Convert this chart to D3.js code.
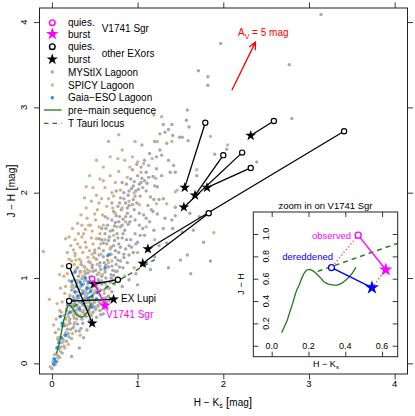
<!DOCTYPE html>
<html>
<head>
<meta charset="utf-8">
<script src="https://cdn.jsdelivr.net/npm/d3@7"></script>
<style>
body { margin: 0; background: #fff; }
svg { display: block; font-family: "Liberation Sans", Arial, Helvetica, sans-serif; }
</style>
</head>
<body>
<div id="chart"></div>
<script>
// ---- data ----
const mystixPts = [
  [0.00,-0.06],[0.03,-0.02],[0.06,0.02],[0.02,0.05],[0.09,0.07],[0.05,0.11],[0.12,0.12],[0.08,0.17],[0.14,0.2],[0.11,0.24],
  [0.17,0.26],[0.07,0.28],[0.2,0.31],[0.15,0.33],[0.23,0.29],[0.32,0.18],[0.23,0.08],[0.18,0.4],[0.12,0.44],[0.25,0.42],
  [0.21,0.47],[0.28,0.38],[0.3,0.46],[0.16,0.52],[0.26,0.53],[0.34,0.41],[0.37,0.3],[0.41,0.39],[0.04,0.36],[0.09,0.55],
  [0.19,0.58],[0.24,0.61],[0.3,0.57],[0.35,0.52],[0.4,0.55],[0.44,0.5],[0.48,0.6],[0.52,0.54],[0.56,0.62],[0.6,0.58],
  [0.22,0.66],[0.27,0.7],[0.31,0.64],[0.36,0.68],[0.41,0.63],[0.45,0.7],[0.5,0.66],[0.55,0.72],[0.59,0.68],[0.64,0.71],
  [0.2,0.74],[0.25,0.78],[0.29,0.75],[0.33,0.8],[0.38,0.76],[0.42,0.82],[0.47,0.77],[0.51,0.84],[0.56,0.8],[0.61,0.86],
  [0.66,0.79],[0.7,0.84],[0.23,0.86],[0.28,0.9],[0.32,0.87],[0.37,0.93],[0.41,0.89],[0.46,0.95],[0.5,0.91],[0.54,0.98],
  [0.58,0.93],[0.63,1.0],[0.68,0.95],[0.72,1.03],[0.26,0.98],[0.31,1.02],[0.35,0.99],[0.39,1.05],[0.44,1.01],[0.48,1.08],
  [0.53,1.04],[0.57,1.1],[0.62,1.07],[0.66,1.13],[0.71,1.09],[0.75,1.16],[0.3,1.12],[0.34,1.16],[0.38,1.13],[0.43,1.19],
  [0.47,1.15],[0.52,1.22],[0.56,1.18],[0.6,1.25],[0.65,1.21],[0.69,1.28],[0.74,1.24],[0.78,1.3],[0.36,0.6],[0.43,0.72],
  [0.53,0.88],[0.6,0.76],[0.34,0.92],[0.49,1.0],[0.27,0.83],[0.18,0.68],[0.4,0.97],[0.55,1.06],[0.45,0.85],[0.64,0.9],
  [0.32,0.72],[0.58,1.02],[0.69,1.04],[0.39,0.84],[0.47,0.69],[0.28,0.62],[0.52,0.76],[0.62,0.64],[0.67,0.74],[0.73,0.93],
  [0.5,1.3],[0.55,1.35],[0.6,1.32],[0.64,1.4],[0.69,1.36],[0.73,1.44],[0.78,1.4],[0.82,1.47],[0.58,1.45],[0.62,1.52],
  [0.67,1.48],[0.71,1.56],[0.76,1.52],[0.8,1.6],[0.85,1.56],[0.89,1.63],[0.65,1.62],[0.7,1.68],[0.74,1.65],[0.79,1.72],
  [0.83,1.69],[0.88,1.76],[0.92,1.72],[0.96,1.8],[0.72,1.78],[0.77,1.84],[0.81,1.8],[0.86,1.88],[0.9,1.85],[0.95,1.92],
  [0.99,1.88],[1.03,1.96],[0.8,1.94],[0.84,2.0],[0.89,1.97],[0.93,2.05],[0.98,2.02],[1.02,2.1],[1.06,2.06],[0.87,2.1],
  [0.92,2.16],[0.96,2.13],[1.0,2.2],[1.05,2.17],[1.1,2.24],[0.68,1.28],[0.86,1.34],[0.92,1.45],[0.97,1.52],[1.02,1.62],
  [1.07,1.74],[1.12,1.85],[0.84,1.28],[0.9,1.38],[0.95,1.3],[1.0,1.42],[1.08,1.5],[1.14,1.66],[1.18,1.78],[0.63,1.15],
  [0.8,1.2],[0.76,1.08],[0.88,1.18],[0.83,1.12],[0.58,1.58],[0.55,1.46],[0.62,1.72],[0.7,1.88],[0.75,2.02],[0.82,2.12],
  [0.94,2.27],[0.99,2.33],[1.04,2.3],[1.1,2.02],[1.15,1.95],[1.2,2.08],[1.25,1.92],[1.3,1.58],[1.4,1.68],[1.34,1.41],
  [1.05,2.56],[1.11,2.11],[1.18,2.19],[1.22,2.42],[1.26,2.5],[1.26,2.69],[1.34,2.58],[1.41,2.67],[1.49,2.65],[1.59,2.61],
  [1.38,2.24],[1.44,2.24],[1.3,2.8],[1.4,2.8],[1.52,2.65],[1.32,2.71],[1.36,2.74],[1.57,2.85],[1.58,2.97],[1.6,2.77],
  [1.28,2.44],[1.23,2.07],[1.3,1.93],[1.36,2.38],[1.42,2.32],[1.22,2.28],[1.28,2.2],[1.08,2.38],[1.14,2.46],[1.2,2.6],
  [1.23,1.75],[1.32,1.7],[1.44,1.83],[1.54,1.82],[1.44,1.73],[1.52,1.54],[1.69,2.2],[1.72,1.72],
  [1.61,1.76],[1.65,1.56],[1.77,1.42],[1.58,1.27],[1.5,1.21],[1.19,1.56],[1.41,1.58],[1.12,1.32],[1.2,1.25],[1.05,1.15],
  [0.98,1.05],[1.15,1.1],[0.9,0.98],[1.0,0.92],[0.85,1.02],[0.82,0.9],[1.25,1.38],[1.36,1.12],[1.62,1.05],[1.85,1.2],
  [1.97,3.75],[1.71,3.43],[1.82,3.36],[1.82,3.26],[3.14,4.09],[2.77,3.5],[2.8,2.87],[2.39,2.36],[2.04,2.51],[1.9,2.45],
  [0.21,0.52],[0.26,0.57],[0.33,0.62],[0.38,0.58],[0.43,0.61],[0.46,0.56],[0.51,0.63],[0.57,0.57],[0.24,0.69],[0.29,0.67],
  [0.34,0.71],[0.39,0.66],[0.44,0.74],[0.49,0.71],[0.54,0.68],[0.58,0.74],[0.63,0.77],[0.21,0.79],[0.26,0.73],[0.31,0.77],
  [0.36,0.85],[0.4,0.79],[0.44,0.88],[0.49,0.82],[0.53,0.93],[0.57,0.86],[0.62,0.94],[0.67,0.88],[0.71,0.98],[0.24,0.92],
  [0.29,0.97],[0.33,1.08],[0.38,1.01],[0.42,1.06],[0.47,1.12],[0.51,1.09],[0.56,1.14],[0.61,1.18],[0.65,1.26],[0.7,1.14],
  [0.74,1.32],[0.77,1.21],[0.8,1.36],[0.55,1.27],[0.6,1.41],[0.66,1.44],[0.72,1.38],[0.77,1.47],[0.83,1.52],[0.87,1.45],
  [0.63,1.58],[0.68,1.55],[0.73,1.61],[0.78,1.66],[0.82,1.62],[0.86,1.72],[0.91,1.66],[0.94,1.86],[0.88,1.82],[0.84,1.93],
  [0.79,1.88],[0.75,1.73],[0.97,1.96],[1.01,2.04],[0.95,2.08],[0.9,2.02],[1.04,2.12],[1.08,2.14],[1.13,2.18],[0.17,0.62],
  [0.15,0.44],[0.19,0.35],[0.22,0.4],[0.26,0.46],[0.29,0.52],[0.13,0.28],[0.1,0.19],[0.07,0.09],[0.04,0.02],[0.36,0.47],
  [0.32,0.38],[0.45,0.65],[0.69,1.0],[0.74,1.08],[0.79,1.13],[0.84,1.24],[0.9,1.27],[0.93,1.36],[0.98,1.4],[1.03,1.5],
  [1.06,1.58],[1.1,1.7],[1.16,1.8],[1.19,1.92],[1.02,1.76],[0.97,1.68]
];
const spicyPts = [
  [-0.02,-0.04],[0.01,0.02],[0.04,-0.01],[0.07,0.06],[0.03,0.1],[0.1,0.14],[0.06,0.19],[0.13,0.25],[0.1,0.31],[0.16,0.36],
  [0.19,0.22],[0.08,0.4],[0.14,0.47],[0.2,0.5],[0.05,0.52],[0.11,0.6],[0.24,0.35],[0.27,0.48],[0.33,0.33],
  [0.17,0.64],[0.22,0.7],[0.26,0.66],[0.3,0.78],[0.35,0.74],[0.39,0.8],[0.43,0.77],[0.47,0.86],[0.21,0.8],[0.25,0.88],
  [0.29,0.94],[0.34,0.9],[0.38,0.97],[0.42,0.93],[0.46,1.02],[0.5,0.96],[0.54,1.05],[0.16,0.9],[0.2,0.97],[0.24,1.05],
  [0.28,1.1],[0.33,1.06],[0.37,1.14],[0.41,1.1],[0.45,1.18],[0.49,1.24],[0.53,1.16],[0.57,1.28],[0.14,1.02],[0.19,1.12],
  [0.23,1.2],[0.27,1.26],[0.32,1.22],[0.36,1.3],[0.4,1.36],[0.44,1.32],[0.48,1.4],[0.52,1.46],[0.18,1.3],[0.22,1.38],
  [0.27,1.45],[0.31,1.52],[0.35,1.48],[0.39,1.57],[0.43,1.62],[0.47,1.55],[0.51,1.68],[0.55,1.6],[0.59,1.74],[0.37,0.62],
  [0.42,0.67],[0.5,0.72],[0.57,0.7],[0.61,0.82],[0.65,0.88],[0.58,0.97],[0.62,1.1],[0.66,1.18],[0.7,1.2],[0.68,1.34],
  [0.72,1.5],[0.76,1.6],[0.33,0.56],[0.28,0.6],[0.45,0.58],[0.53,0.66],[0.4,0.86],[0.55,0.85],[0.31,0.84],[0.36,1.02],
  [0.44,1.08],[0.59,1.04],[0.26,0.76],[0.48,0.9],
  [0.16,1.46],[0.27,1.29],[0.28,1.21],[0.45,1.62],[0.52,1.97],[0.58,1.93],[0.66,1.93],[0.8,2.03],[0.91,2.3],[0.6,2.3],
  [0.34,1.74],[0.4,1.82],[0.46,1.9],[0.53,1.8],[0.64,1.84],[0.7,2.0],[0.74,2.12],[0.78,2.25],[0.85,2.38],[0.88,2.18],
  [0.94,2.42],[1.0,2.36],[1.07,2.34],[1.13,2.32],[1.17,2.4],[0.97,2.6],[0.82,2.5],[0.68,2.42],[0.56,2.16],[0.62,2.06],
  [0.74,1.76],[0.82,1.82],[0.86,1.66],[0.9,1.9],[0.96,2.0],[1.02,1.86],[1.04,2.24],[0.72,1.96],[0.3,1.64],[0.24,1.58],
  [0.38,1.94],[0.48,2.06],[0.44,2.2],[0.66,2.6],[0.78,2.68],
  [1.19,2.91],[1.28,2.89],[1.85,2.66],[2.05,2.56],[1.69,2.27],[1.46,2.03],[1.89,1.53],[1.21,2.17],[1.23,2.6],[1.4,2.6],
  [1.22,1.87],[1.34,1.87],[1.44,2.01],[1.1,1.6],[1.0,1.3],[1.2,1.45],[0.96,1.12],[-0.1,1.31],[0.09,1.04],[-0.03,0.75],
  [0.02,0.45],
  [0.19,0.55],[0.25,0.56],[0.32,0.66],[0.4,0.71],[0.48,0.75],[0.52,0.86],[0.44,0.96],[0.38,1.08],[0.31,0.97],[0.23,0.9],
  [0.18,1.05],[0.26,1.16],[0.34,1.19],[0.42,1.24],[0.5,1.33],[0.46,1.47],[0.39,1.42],[0.33,1.36],[0.25,1.33],[0.2,1.22],
  [0.12,1.14],[0.15,0.82],[0.12,0.72],[0.09,0.62],[0.3,1.4],[0.37,1.52],[0.41,1.7],[0.5,1.75],[0.55,1.88],[0.6,1.62],
  [0.65,1.7],[0.62,1.45],[0.57,1.4],[0.71,1.82],[0.68,2.2],[0.77,2.4],[0.6,2.14],[0.52,2.38],[0.4,2.07],[0.35,1.62],
  [0.2,1.48],[0.1,0.88],[0.06,0.7],[0.47,1.28],[0.56,1.52],[0.14,0.56],[0.18,0.45],[0.22,0.6],[0.07,0.3],[0.15,0.18]
];
const gaiaPts = [
  [0.02,-0.01],[0.04,0.02],[0.06,0.18],[0.16,0.33],[0.03,0.05],[0.08,0.24],[0.23,0.96],[0.39,1.0],[0.35,0.92],[0.41,0.88],
  [0.45,0.84],[0.27,0.84],[0.3,0.79],[0.47,0.79],[0.53,0.83],[0.19,0.7],[0.37,0.7],[0.47,0.66],[0.66,1.27],[0.62,1.12],
  [0.33,0.95],[0.43,0.95],[0.29,0.9],[0.25,0.74],[0.36,0.82],[0.5,0.92],[0.21,0.6],[0.13,0.44],[0.11,0.3],[0.32,0.64],
  [0.55,0.95],[0.42,0.76],[0.27,1.07],[0.1,0.55],[0.12,0.47],[0.52,0.75]
];
// pre-main sequence track
const pmsHK = [0.054,0.069,0.085,0.099,0.114,0.127,0.136,0.150,0.163,0.176,0.190,0.205,0.223,0.241,0.263,0.284,0.308,0.335,0.357,0.380,0.408,0.435,0.458];
const pmsJH = [0.117,0.170,0.230,0.305,0.379,0.454,0.499,0.543,0.603,0.648,0.678,0.684,0.672,0.648,0.612,0.573,0.552,0.543,0.543,0.558,0.594,0.642,0.702];
// T Tauri locus end points
const ttsHK = [0.25, 1.2];
const ttsJH = [0.665, 1.216];
// other EXors: quiescent -> burst
const exorQuies = [[1.79,2.82],[2.00,2.44],[2.22,2.47],[2.32,2.29],[2.59,2.84],[3.41,2.72],[1.83,1.76],[0.20,1.14],[0.20,0.73],[0.77,0.98]];
const exorBurst = [[1.55,2.06],[1.67,1.97],[1.54,1.83],[1.81,2.06],[2.32,2.67],[1.12,1.34],[1.06,1.17],[0.47,0.47],[0.72,0.75],[0.49,0.93]];
// V1741 Sgr observed and dereddened
const v1741Obs = [[0.47,0.99],[0.62,0.68]];
const v1741Dered = [[0.325,0.70],[0.545,0.52]];
// reddening vector A_V = 5 mag
const avArrow = [[2.10,3.20],[2.375,3.765]];
const xTicks = [0,1,2,3,4];
const yTicks = [0,1,2,3,4];
const insetXTicks = [0.0,0.2,0.4,0.6];
const insetYTicks = [0.0,0.2,0.4,0.6,0.8,1.0];

const W = 415, H = 416;
const GREY = "#a9a9a9", TAN = "#d2b48c", BLUE = "#1e90ff", MAG = "#ff00ff", GREEN = "#1e7a1e";

const svg = d3.select("#chart").append("svg")
  .attr("width", W).attr("height", H)
  .attr("viewBox", [0, 0, W, H]);

const x = d3.scaleLinear([-0.145, 4.15], [39.5, 407.5]);
const y = d3.scaleLinear([-0.125, 4.165], [374, 8]);

svg.append("clipPath").attr("id", "mainClip")
  .append("rect").attr("x", 39.5).attr("y", 8).attr("width", 368).attr("height", 366);

// ---- axes, ticks outward on all four sides ----
function minorOf(scale, step) {
  const [a, b] = scale.domain();
  return d3.range(Math.ceil(a / step) * step, b + 1e-9, step).map(v => +v.toFixed(3));
}
const xMinor = minorOf(x, 0.2), yMinor = minorOf(y, 0.2);

function axisPair(gen, scale, major, minor, tf) {
  const g = svg.append("g").attr("transform", tf);
  g.call(gen(scale).tickValues(minor).tickSize(3).tickFormat(""));
  g.call(gen(scale).tickValues(major).tickSize(5.5).tickFormat(""));
  g.selectAll(".domain").remove();
  g.selectAll(".tick line").attr("stroke", "#222").attr("stroke-width", 0.9);
}
axisPair(d3.axisBottom, x, xTicks, xMinor, "translate(0,374)");
axisPair(d3.axisTop, x, xTicks, xMinor, "translate(0,8)");
axisPair(d3.axisLeft, y, yTicks, yMinor, "translate(39.5,0)");
axisPair(d3.axisRight, y, yTicks, yMinor, "translate(407.5,0)");

svg.append("g").selectAll("text").data(xTicks).join("text")
  .attr("x", d => x(d)).attr("y", 387).attr("text-anchor", "middle")
  .attr("font-size", 9.5).text(d => d);
svg.append("g").selectAll("text").data(yTicks).join("text")
  .attr("transform", d => `translate(27,${y(d)}) rotate(-90)`)
  .attr("text-anchor", "middle").attr("font-size", 9.5).text(d => d);

// axis titles
const xt = svg.append("text").attr("x", 223).attr("y", 406).attr("text-anchor", "middle").attr("font-size", 10);
xt.append("tspan").text("H \u2212 K");
xt.append("tspan").attr("font-size", 7).attr("dy", 2).text("s");
xt.append("tspan").attr("dy", -2).attr("font-size", 12).text(" [");
xt.append("tspan").text("mag");
xt.append("tspan").attr("font-size", 12).text("]");
const yt = svg.append("text").attr("transform", "translate(15,191) rotate(-90)").attr("text-anchor", "middle").attr("font-size", 10);
yt.append("tspan").text("J \u2212 H");
yt.append("tspan").attr("font-size", 12).text(" [");
yt.append("tspan").text("mag");
yt.append("tspan").attr("font-size", 12).text("]");

// ---- main plot ----
const plot = svg.append("g").attr("clip-path", "url(#mainClip)");
function dots(pts, color) {
  plot.append("g").selectAll("circle").data(pts).join("circle")
    .attr("cx", d => x(d[0])).attr("cy", d => y(d[1])).attr("r", 1.7).attr("fill", color);
}
dots(mystixPts, GREY);
dots(spicyPts, TAN);
dots(gaiaPts, BLUE);

const pmsData = pmsHK.map((v, i) => [v, pmsJH[i]]);
const ttsData = ttsHK.map((v, i) => [v, ttsJH[i]]);
const line = d3.line().x(d => x(d[0])).y(d => y(d[1]));
plot.append("path").attr("d", line(pmsData)).attr("fill", "none").attr("stroke", GREEN).attr("stroke-width", 1.3);
plot.append("path").attr("d", line(ttsData)).attr("fill", "none").attr("stroke", GREEN).attr("stroke-width", 1.3).attr("stroke-dasharray", "5,4");

// EXor tracks
plot.append("g").selectAll("line").data(exorQuies).join("line")
  .attr("x1", d => x(d[0])).attr("y1", d => y(d[1]))
  .attr("x2", (d, i) => x(exorBurst[i][0])).attr("y2", (d, i) => y(exorBurst[i][1]))
  .attr("stroke", "#000").attr("stroke-width", 1.3);
const star = s => d3.symbol(d3.symbolStar, s)();
plot.append("g").selectAll("path").data(exorBurst).join("path")
  .attr("transform", d => `translate(${x(d[0])},${y(d[1])})`).attr("d", star(36)).attr("fill", "#000");
plot.append("g").selectAll("circle").data(exorQuies).join("circle")
  .attr("cx", d => x(d[0])).attr("cy", d => y(d[1])).attr("r", 2.6)
  .attr("fill", "#fff").attr("stroke", "#000").attr("stroke-width", 1.2);

plot.append("path").attr("d", line(v1741Obs)).attr("stroke", MAG).attr("stroke-width", 1.3).attr("fill", "none");
plot.append("path").attr("transform", `translate(${x(v1741Obs[1][0])},${y(v1741Obs[1][1])})`).attr("d", star(44)).attr("fill", MAG);
plot.append("circle").attr("cx", x(v1741Obs[0][0])).attr("cy", y(v1741Obs[0][1])).attr("r", 2.6)
  .attr("fill", "#fff").attr("stroke", MAG).attr("stroke-width", 1.2);

svg.append("text").attr("x", 121).attr("y", 301.5).attr("font-size", 10).text("EX Lupi");
svg.append("text").attr("x", 106).attr("y", 318).attr("font-size", 10).attr("fill", MAG).text("V1741 Sgr");

// reddening arrow
const ax0 = x(avArrow[0][0]), ay0 = y(avArrow[0][1]), ax1 = x(avArrow[1][0]), ay1 = y(avArrow[1][1]);
const ang = Math.atan2(ay1 - ay0, ax1 - ax0);
const head = [ang + Math.PI - 0.45, ang + Math.PI + 0.45].map(a => [ax1 + 8 * Math.cos(a), ay1 + 8 * Math.sin(a)]);
svg.append("path").attr("d", `M${ax0},${ay0}L${ax1},${ay1}M${head[0]}L${ax1},${ay1}L${head[1]}`)
  .attr("fill", "none").attr("stroke", "red").attr("stroke-width", 1.3);
const avt = svg.append("text").attr("x", 238).attr("y", 36).attr("font-size", 10).attr("fill", "red");
avt.append("tspan").text("A");
avt.append("tspan").attr("font-size", 7).attr("dy", 2.5).text("V");
avt.append("tspan").attr("dy", -2.5).text(" = 5 mag");

// frame
svg.append("rect").attr("x", 39.5).attr("y", 8).attr("width", 368).attr("height", 366)
  .attr("fill", "none").attr("stroke", "#222").attr("stroke-width", 1);

// ---- legend ----
const lg = svg.append("g");
const rowY = [22.7, 34, 46.7, 59.3, 72, 85, 97.7, 110, 123.3];
const lgLabels = ["quies.", "burst", "quies.", "burst", "MYStIX Lagoon", "SPICY Lagoon", "Gaia\u2212ESO Lagoon", "pre\u2212main sequence", "T Tauri locus"];
lg.selectAll("text.lab").data(lgLabels).join("text").attr("class", "lab")
  .attr("x", 68).attr("y", (d, i) => rowY[i] + 3.6).attr("font-size", 10).text(d => d);
lg.append("circle").attr("cx", 52.3).attr("cy", rowY[0]).attr("r", 2.8).attr("fill", "#fff").attr("stroke", MAG).attr("stroke-width", 1.4);
lg.append("path").attr("transform", `translate(52.3,${rowY[1]})`).attr("d", star(50)).attr("fill", MAG);
lg.append("circle").attr("cx", 52.3).attr("cy", rowY[2]).attr("r", 2.8).attr("fill", "#fff").attr("stroke", "#000").attr("stroke-width", 1.4);
lg.append("path").attr("transform", `translate(52.3,${rowY[3]})`).attr("d", star(40)).attr("fill", "#000");
[GREY, TAN, BLUE].forEach((c, i) => lg.append("circle").attr("cx", 52.3).attr("cy", rowY[4 + i]).attr("r", 1.7).attr("fill", c));
lg.append("line").attr("x1", 44).attr("x2", 61.5).attr("y1", rowY[7]).attr("y2", rowY[7]).attr("stroke", GREEN).attr("stroke-width", 1.3);
lg.append("line").attr("x1", 44).attr("x2", 61.5).attr("y1", rowY[8]).attr("y2", rowY[8]).attr("stroke", GREEN).attr("stroke-width", 1.3).attr("stroke-dasharray", "4.5,4");
lg.append("text").attr("x", 101.7).attr("y", 31.5).attr("font-size", 10).text("V1741 Sgr");
lg.append("text").attr("x", 101.7).attr("y", 56.5).attr("font-size", 10).text("other EXors");

// ---- inset ----
const xi = d3.scaleLinear([-0.1, 0.685], [253.3, 397.7]);
const yi = d3.scaleLinear([-0.098, 1.197], [356.7, 212]);
svg.append("clipPath").attr("id", "insetClip")
  .append("rect").attr("x", 253.3).attr("y", 212).attr("width", 144.4).attr("height", 144.7);
svg.append("rect").attr("x", 253.3).attr("y", 212).attr("width", 144.4).attr("height", 144.7).attr("fill", "#fff");
svg.append("text").attr("x", 325.5).attr("y", 209).attr("text-anchor", "middle").attr("font-size", 9.5).text("zoom in on V1741 Sgr");

const ixMinor = minorOf(xi, 0.1), iyMinor = minorOf(yi, 0.1);
function insetAxis(gen, scale, major, minor, tf) {
  const g = svg.append("g").attr("transform", tf);
  g.call(gen(scale).tickValues(minor).tickSize(-3).tickFormat(""));
  g.call(gen(scale).tickValues(major).tickSize(-5).tickFormat(""));
  g.selectAll(".domain").remove();
  g.selectAll(".tick line").attr("stroke", "#222").attr("stroke-width", 0.9);
}
insetAxis(d3.axisBottom, xi, insetXTicks, ixMinor, "translate(0,356.7)");
insetAxis(d3.axisTop, xi, insetXTicks, ixMinor, "translate(0,212)");
insetAxis(d3.axisLeft, yi, insetYTicks, iyMinor, "translate(253.3,0)");
insetAxis(d3.axisRight, yi, insetYTicks, iyMinor, "translate(397.7,0)");
svg.append("g").selectAll("text").data(insetXTicks).join("text")
  .attr("x", d => xi(d)).attr("y", 349).attr("text-anchor", "middle").attr("font-size", 9).text(d => d.toFixed(1));
svg.append("g").selectAll("text").data(insetYTicks.slice(1)).join("text")
  .attr("transform", d => `translate(268.5,${yi(d)}) rotate(-90)`)
  .attr("text-anchor", "middle").attr("font-size", 9).text(d => d.toFixed(1));
const ixt = svg.append("text").attr("x", 326).attr("y", 367).attr("text-anchor", "middle").attr("font-size", 9);
ixt.append("tspan").text("H \u2212 K");
ixt.append("tspan").attr("font-size", 6).attr("dy", 2).text("s");
svg.append("text").attr("transform", "translate(244,284) rotate(-90)").attr("text-anchor", "middle").attr("font-size", 9).text("J \u2212 H");

const ip = svg.append("g").attr("clip-path", "url(#insetClip)");
const iline = d3.line().x(d => xi(d[0])).y(d => yi(d[1]));
ip.append("path").attr("d", iline(pmsData)).attr("fill", "none").attr("stroke", GREEN).attr("stroke-width", 1.3);
ip.append("path").attr("d", iline(ttsData)).attr("fill", "none").attr("stroke", GREEN).attr("stroke-width", 1.4).attr("stroke-dasharray", "5,4");
[0, 1].forEach(i => ip.append("path").attr("d", iline([v1741Obs[i], v1741Dered[i]]))
  .attr("fill", "none").attr("stroke", "#ff4d4d").attr("stroke-width", 1.5).attr("stroke-dasharray", "1.2,2.4"));
ip.append("path").attr("d", iline(v1741Obs)).attr("fill", "none").attr("stroke", MAG).attr("stroke-width", 1.4);
ip.append("path").attr("d", iline(v1741Dered)).attr("fill", "none").attr("stroke", "blue").attr("stroke-width", 1.4);
ip.append("path").attr("transform", `translate(${xi(v1741Obs[1][0])},${yi(v1741Obs[1][1])})`).attr("d", star(58)).attr("fill", MAG);
ip.append("path").attr("transform", `translate(${xi(v1741Dered[1][0])},${yi(v1741Dered[1][1])})`).attr("d", star(62)).attr("fill", "blue");
ip.append("circle").attr("cx", xi(v1741Obs[0][0])).attr("cy", yi(v1741Obs[0][1])).attr("r", 3)
  .attr("fill", "#fff").attr("stroke", MAG).attr("stroke-width", 1.3);
ip.append("circle").attr("cx", xi(v1741Dered[0][0])).attr("cy", yi(v1741Dered[0][1])).attr("r", 3)
  .attr("fill", "#fff").attr("stroke", "blue").attr("stroke-width", 1.3);
svg.append("text").attr("x", 351).attr("y", 238.5).attr("text-anchor", "end").attr("font-size", 9.5).attr("fill", MAG).text("observed");
svg.append("text").attr("x", 333).attr("y", 259.5).attr("text-anchor", "end").attr("font-size", 9.5).attr("fill", "blue").text("dereddened");
svg.append("rect").attr("x", 253.3).attr("y", 212).attr("width", 144.4).attr("height", 144.7)
  .attr("fill", "none").attr("stroke", "#222").attr("stroke-width", 1);
</script>
</body>
</html>
